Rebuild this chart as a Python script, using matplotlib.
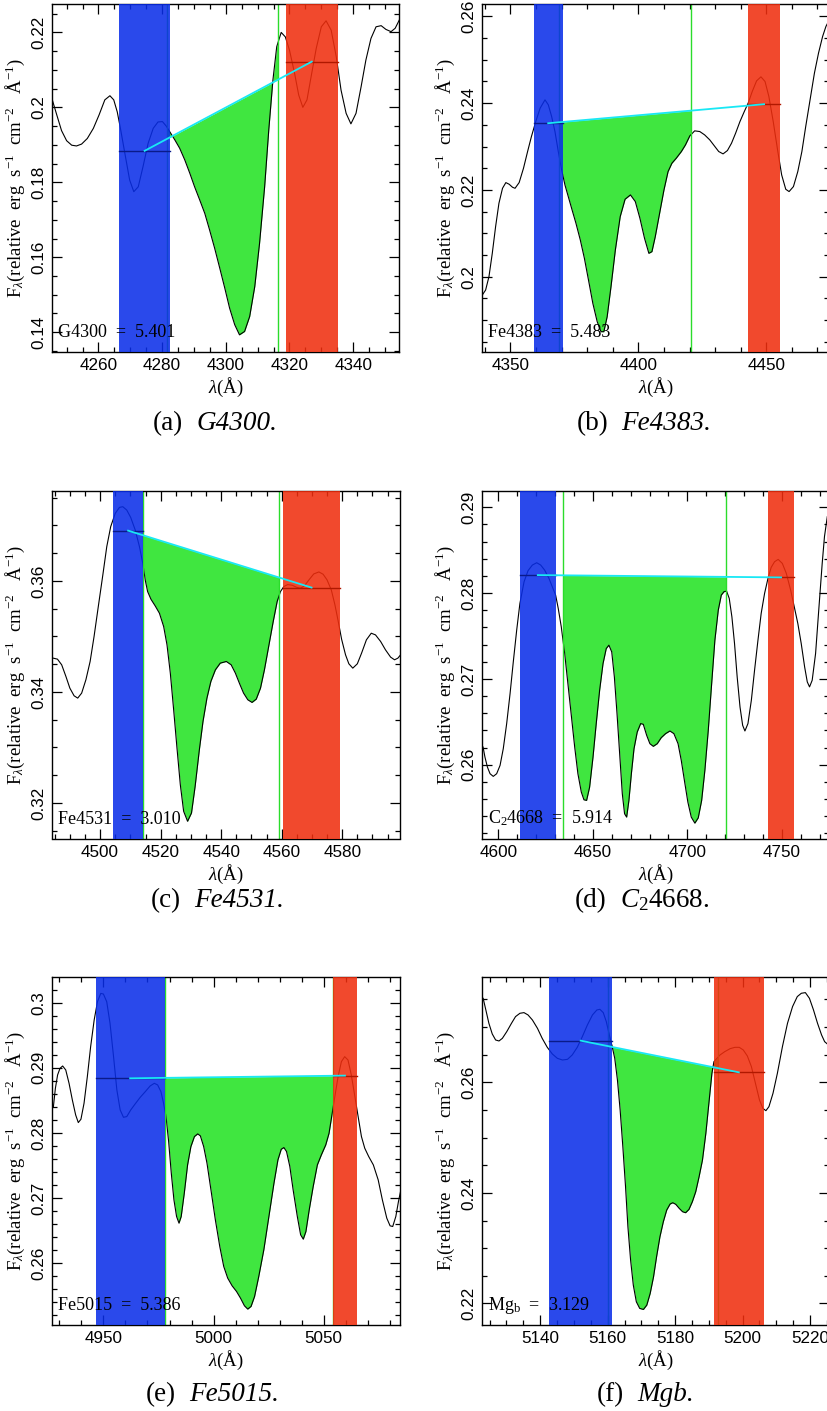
import numpy as np
import matplotlib
matplotlib.use('Agg')
import matplotlib.pyplot as plt
from matplotlib.patches import Rectangle
from matplotlib.ticker import MultipleLocator, FuncFormatter

plt.rcParams['font.family'] = ['Liberation Sans', 'DejaVu Sans']
plt.rcParams['mathtext.fontset'] = 'custom'
plt.rcParams['mathtext.rm'] = 'Liberation Serif'
plt.rcParams['mathtext.it'] = 'Liberation Serif:italic'
plt.rcParams['mathtext.bf'] = 'Liberation Serif:bold'

# ---- spectra ----
wl_a = [4245.5, 4246.9, 4248.4, 4250.0, 4251.6, 4253.1, 4254.7, 4256.5, 4258.4, 4260.2,
        4262.0, 4263.6, 4264.8, 4265.9, 4266.9, 4268.3, 4269.8, 4271.1, 4272.5, 4274.0,
        4275.6, 4277.2, 4278.7, 4280.1, 4281.3, 4282.4, 4284.0, 4285.5, 4287.1, 4288.7,
        4290.2, 4291.8, 4293.4, 4294.9, 4296.5, 4298.1, 4299.7, 4301.2, 4302.8, 4304.3,
        4305.9, 4307.5, 4309.1, 4310.6, 4312.2, 4313.5, 4314.8, 4316.0, 4317.4, 4318.7,
        4320.0, 4321.6, 4322.9, 4324.2, 4325.5, 4326.8, 4328.4, 4330.0, 4331.5, 4333.1,
        4334.7, 4336.2, 4337.8, 4339.3, 4340.9, 4342.5, 4344.0, 4345.6, 4347.2, 4348.8,
        4350.3, 4351.9, 4353.2, 4354.5]
flux_a = [0.2020, 0.1980, 0.1938, 0.1911, 0.1899, 0.1897, 0.1902, 0.1917, 0.1944, 0.1980,
          0.2020, 0.2031, 0.2020, 0.1988, 0.1944, 0.1877, 0.1806, 0.1775, 0.1788, 0.1842,
          0.1904, 0.1944, 0.1961, 0.1962, 0.1950, 0.1935, 0.1913, 0.1891, 0.1860, 0.1824,
          0.1788, 0.1753, 0.1717, 0.1673, 0.1624, 0.1571, 0.1517, 0.1464, 0.1420, 0.1393,
          0.1402, 0.1442, 0.1522, 0.1637, 0.1788, 0.1940, 0.2073, 0.2162, 0.2200, 0.2188,
          0.2153, 0.2091, 0.2033, 0.2000, 0.2020, 0.2082, 0.2157, 0.2215, 0.2231, 0.2206,
          0.2135, 0.2046, 0.1984, 0.1956, 0.1984, 0.2055, 0.2126, 0.2184, 0.2215, 0.2218,
          0.2208, 0.2202, 0.2211, 0.2233]

wl_b = [4339.0, 4340.3, 4341.6, 4342.9, 4344.2, 4345.5, 4346.9, 4348.2, 4349.5, 4350.8,
        4351.8, 4353.4, 4355.1, 4356.7, 4358.2, 4359.9, 4361.6, 4363.5, 4364.8, 4366.1,
        4367.4, 4368.7, 4370.0, 4371.3, 4372.6, 4373.9, 4375.6, 4377.3, 4378.9, 4380.5,
        4382.2, 4383.9, 4385.4, 4386.5, 4387.8, 4389.3, 4391.0, 4392.9, 4394.8, 4396.9,
        4398.8, 4400.6, 4402.4, 4404.1, 4405.3, 4406.6, 4408.3, 4410.0, 4411.6, 4413.1,
        4414.8, 4416.8, 4418.4, 4420.1, 4422.0, 4424.0, 4425.9, 4427.9, 4429.9, 4431.4,
        4433.1, 4434.8, 4436.4, 4438.0, 4439.7, 4441.4, 4442.9, 4444.5, 4446.2, 4447.9,
        4449.5, 4451.0, 4452.7, 4454.4, 4456.0, 4457.6, 4458.9, 4460.6, 4462.3, 4463.9,
        4465.4, 4467.1, 4468.8, 4470.4, 4472.0, 4473.3, 4474.3]
flux_b = [0.19577, 0.19692, 0.2000, 0.20538, 0.21154, 0.21692, 0.22038, 0.22169, 0.22131, 0.22062,
          0.22038, 0.22169, 0.22500, 0.22885, 0.23231, 0.23577, 0.23885, 0.24077, 0.23962, 0.23692,
          0.23346, 0.22885, 0.22462, 0.22115, 0.21846, 0.21577, 0.21231, 0.20846, 0.20423, 0.19923,
          0.19385, 0.18962, 0.18731, 0.18731, 0.19077, 0.19769, 0.20615, 0.21385, 0.21785, 0.21885,
          0.21731, 0.21346, 0.20885, 0.20538, 0.20577, 0.20923, 0.21462, 0.22000, 0.22423, 0.22615,
          0.22731, 0.22885, 0.23038, 0.23246, 0.23362, 0.23346, 0.23269, 0.23154, 0.23000, 0.22885,
          0.22831, 0.22908, 0.23077, 0.23308, 0.23577, 0.23808, 0.24000, 0.24269, 0.24515, 0.24608,
          0.24500, 0.24154, 0.23577, 0.22923, 0.22346, 0.22015, 0.21962, 0.22077, 0.22423, 0.22885,
          0.23462, 0.24077, 0.24692, 0.25154, 0.25538, 0.25769, 0.25885]

wl_c = [4484.5, 4485.9, 4487.3, 4488.7, 4490.0, 4491.4, 4492.6, 4493.9, 4495.3, 4496.7,
        4498.0, 4499.4, 4500.9, 4502.2, 4503.5, 4505.0, 4506.4, 4507.5, 4508.8, 4510.1,
        4511.6, 4513.0, 4514.1, 4514.9, 4515.7, 4516.8, 4518.2, 4519.6, 4521.0, 4522.1,
        4523.2, 4524.3, 4525.4, 4526.5, 4527.6, 4528.9, 4530.2, 4531.4, 4532.8, 4534.0,
        4535.3, 4536.6, 4538.1, 4539.7, 4541.7, 4543.3, 4544.7, 4546.1, 4547.4, 4548.8,
        4550.2, 4551.6, 4553.0, 4554.3, 4555.7, 4557.2, 4558.5, 4559.6, 4560.7, 4562.0,
        4563.5, 4564.9, 4566.2, 4567.5, 4569.0, 4570.6, 4572.3, 4573.7, 4575.0, 4576.4,
        4577.6, 4578.7, 4579.8, 4581.1, 4582.2, 4583.5, 4585.0, 4586.4, 4588.0, 4589.6,
        4591.0, 4592.7, 4594.3, 4596.0, 4597.3, 4598.4, 4599.3]
flux_c = [0.34609, 0.34591, 0.34489, 0.34279, 0.34069, 0.33931, 0.33889, 0.33979, 0.34219, 0.34549,
          0.34999, 0.35538, 0.36108, 0.36618, 0.36978, 0.37217, 0.37325, 0.37337, 0.37277, 0.37145,
          0.36918, 0.36618, 0.36318, 0.36018, 0.35808, 0.35670, 0.35550, 0.35418, 0.35178, 0.34849,
          0.34339, 0.33679, 0.32990, 0.32330, 0.31850, 0.31670, 0.31820, 0.32300, 0.32960, 0.33469,
          0.33889, 0.34189, 0.34399, 0.34519, 0.34549, 0.34489, 0.34339, 0.34147, 0.33979, 0.33859,
          0.33811, 0.33871, 0.34069, 0.34399, 0.34819, 0.35268, 0.35628, 0.35808, 0.35898, 0.35934,
          0.35922, 0.35886, 0.35868, 0.35910, 0.36018, 0.36126, 0.36162, 0.36120, 0.36018, 0.35838,
          0.35568, 0.35268, 0.34950, 0.34669, 0.34507, 0.34429, 0.34507, 0.34699, 0.34939, 0.35058,
          0.35028, 0.34909, 0.34759, 0.34627, 0.34579, 0.34609, 0.34669]

wl_d = [4591.9, 4592.9, 4594.2, 4595.6, 4597.3, 4599.1, 4600.9, 4602.6, 4604.4, 4606.2,
        4607.9, 4609.7, 4611.4, 4613.6, 4615.7, 4618.0, 4620.3, 4622.4, 4624.5, 4626.8,
        4628.9, 4630.3, 4631.7, 4633.3, 4635.1, 4636.8, 4638.6, 4640.4, 4642.1, 4643.9,
        4645.3, 4646.7, 4648.3, 4650.1, 4651.8, 4653.6, 4655.4, 4657.1, 4658.5, 4660.0,
        4661.4, 4662.8, 4664.2, 4665.6, 4666.8, 4667.9, 4669.1, 4670.4, 4671.8, 4673.5,
        4675.3, 4676.7, 4678.5, 4680.2, 4682.0, 4684.1, 4686.2, 4688.5, 4690.8, 4692.9,
        4695.1, 4696.8, 4698.6, 4700.3, 4702.1, 4704.0, 4705.8, 4707.6, 4709.3, 4711.1,
        4712.9, 4714.6, 4716.4, 4718.0, 4719.4, 4720.8, 4722.2, 4723.6, 4725.0, 4726.4,
        4727.9, 4729.3, 4730.5, 4732.1, 4733.9, 4735.6, 4737.4, 4739.1, 4740.9, 4742.7,
        4744.4, 4746.2, 4748.1, 4750.3, 4752.4, 4754.7, 4756.8, 4758.5, 4760.3, 4762.1,
        4763.5, 4764.7, 4766.1, 4767.9, 4769.7, 4771.4, 4772.6, 4774.1]
flux_d = [0.26206, 0.26089, 0.25973, 0.25895, 0.25864, 0.25895, 0.25992, 0.26187, 0.26479, 0.26829,
          0.27198, 0.27568, 0.27879, 0.28132, 0.28261, 0.28327, 0.28354, 0.28327, 0.28268, 0.28171,
          0.28054, 0.27977, 0.27821, 0.27607, 0.27296, 0.26946, 0.26576, 0.26206, 0.25895, 0.25681,
          0.25591, 0.25584, 0.25739, 0.26089, 0.26479, 0.26868, 0.27179, 0.27354, 0.27393, 0.27315,
          0.27023, 0.26595, 0.26128, 0.25661, 0.25428, 0.25389, 0.25584, 0.25895, 0.26187, 0.26381,
          0.26479, 0.26471, 0.26342, 0.26245, 0.26214, 0.26245, 0.26315, 0.26362, 0.26393, 0.26362,
          0.26245, 0.26051, 0.25798, 0.25564, 0.25389, 0.25319, 0.25381, 0.25584, 0.25934, 0.26401,
          0.26946, 0.27451, 0.27802, 0.27977, 0.28016, 0.28023, 0.27938, 0.27724, 0.27412, 0.27023,
          0.26673, 0.26459, 0.26393, 0.26479, 0.26751, 0.27101, 0.27451, 0.27763, 0.27996, 0.28171,
          0.28300, 0.28366, 0.28393, 0.28346, 0.28230, 0.28035, 0.27821, 0.27646, 0.27412, 0.27140,
          0.26965, 0.26907, 0.26984, 0.27296, 0.27840, 0.28346, 0.28658, 0.28891]

wl_e = [4927.3, 4928.2, 4929.2, 4930.3, 4931.5, 4932.9, 4934.4, 4935.9, 4937.4, 4938.6,
        4939.8, 4941.2, 4942.7, 4944.2, 4945.8, 4947.3, 4948.8, 4950.0, 4951.5, 4953.0,
        4954.6, 4956.1, 4957.6, 4959.1, 4960.6, 4962.4, 4964.4, 4966.7, 4969.0, 4971.2,
        4973.1, 4974.6, 4976.1, 4977.3, 4978.4, 4979.6, 4980.8, 4982.0, 4983.2, 4984.3,
        4985.3, 4986.7, 4988.2, 4989.7, 4991.3, 4992.8, 4994.0, 4995.5, 4997.0, 4998.8,
        5000.8, 5002.8, 5004.6, 5006.4, 5008.4, 5010.4, 5012.2, 5014.0, 5015.5, 5017.0,
        5018.6, 5020.5, 5022.8, 5025.1, 5027.4, 5029.2, 5030.7, 5031.9, 5033.1, 5034.6,
        5036.1, 5038.0, 5039.5, 5040.7, 5041.9, 5043.4, 5045.2, 5047.1, 5048.9, 5050.9,
        5052.4, 5053.6, 5054.9, 5056.5, 5058.0, 5059.5, 5061.0, 5062.5, 5064.0, 5065.6,
        5067.1, 5068.6, 5070.4, 5072.5, 5074.7, 5076.6, 5078.6, 5080.1, 5081.3, 5082.7,
        5083.9, 5085.0]
flux_e = [0.28404, 0.28685, 0.28890, 0.28992, 0.29028, 0.28967, 0.28762, 0.28506, 0.28276, 0.28159,
          0.28210, 0.28455, 0.28864, 0.29325, 0.29734, 0.30015, 0.30143, 0.30133, 0.30015, 0.29683,
          0.29171, 0.28660, 0.28353, 0.28240, 0.28251, 0.28353, 0.28445, 0.28547, 0.28634, 0.28721,
          0.28762, 0.28737, 0.28634, 0.28455, 0.28251, 0.27867, 0.27381, 0.26972, 0.26716, 0.26614,
          0.26716, 0.27074, 0.27509, 0.27790, 0.27944, 0.27985, 0.27954, 0.27790, 0.27535, 0.27125,
          0.26665, 0.26256, 0.25949, 0.25770, 0.25652, 0.25565, 0.25463, 0.25345, 0.25294, 0.25335,
          0.25488, 0.25795, 0.26205, 0.26716, 0.27228, 0.27586, 0.27749, 0.27775, 0.27714, 0.27483,
          0.27125, 0.26716, 0.26435, 0.26368, 0.26486, 0.26818, 0.27176, 0.27509, 0.27662, 0.27816,
          0.27995, 0.28251, 0.28532, 0.28864, 0.29095, 0.29171, 0.29120, 0.28890, 0.28583, 0.28251,
          0.27944, 0.27765, 0.27637, 0.27509, 0.27279, 0.26972, 0.26691, 0.26573, 0.26563, 0.26716,
          0.26946, 0.27125]

wl_f = [5123.1, 5123.9, 5124.8, 5125.8, 5126.8, 5127.8, 5128.8, 5130.1, 5131.5, 5132.7,
        5134.0, 5135.2, 5136.4, 5137.7, 5139.2, 5140.6, 5142.1, 5143.6, 5145.1, 5146.6,
        5148.1, 5149.5, 5151.0, 5152.5, 5154.0, 5155.5, 5156.8, 5157.7, 5158.7, 5159.6,
        5160.5, 5161.3, 5162.1, 5162.9, 5163.7, 5164.5, 5165.3, 5166.0, 5166.8, 5167.6,
        5168.5, 5169.5, 5170.6, 5171.6, 5172.6, 5173.6, 5174.5, 5175.5, 5176.5, 5177.5,
        5178.5, 5179.3, 5180.2, 5181.2, 5182.2, 5183.1, 5184.1, 5185.1, 5186.1, 5187.1,
        5188.1, 5189.1, 5190.1, 5190.9, 5191.5, 5193.3, 5194.7, 5196.3, 5197.7, 5199.0,
        5200.2, 5201.4, 5202.6, 5203.8, 5205.0, 5206.0, 5206.9, 5207.8, 5209.0, 5210.3,
        5211.8, 5213.3, 5214.8, 5216.2, 5217.4, 5218.6, 5219.8, 5221.0, 5222.2, 5223.4,
        5224.3, 5225.1]
flux_f = [0.27520, 0.27310, 0.27068, 0.26875, 0.26766, 0.26748, 0.26796, 0.26917, 0.27068, 0.27189,
          0.27249, 0.27261, 0.27219, 0.27128, 0.26977, 0.26796, 0.26634, 0.26513, 0.26434, 0.26404,
          0.26416, 0.26495, 0.26634, 0.26827, 0.27038, 0.27219, 0.27309, 0.27321, 0.27261, 0.27098,
          0.26857, 0.26658, 0.26434, 0.26042, 0.25499, 0.24836, 0.24112, 0.23388, 0.22784, 0.22332,
          0.22030, 0.21910, 0.21891, 0.21970, 0.22181, 0.22483, 0.22845, 0.23207, 0.23478, 0.23689,
          0.23798, 0.23822, 0.23792, 0.23720, 0.23659, 0.23641, 0.23701, 0.23840, 0.24021, 0.24293,
          0.24594, 0.25077, 0.25680, 0.26163, 0.26374, 0.26495, 0.26555, 0.26609, 0.26633, 0.26633,
          0.26585, 0.26477, 0.26284, 0.25982, 0.25680, 0.25529, 0.25487, 0.25560, 0.25801, 0.26163,
          0.26646, 0.27068, 0.27370, 0.27551, 0.27611, 0.27623, 0.27520, 0.27310, 0.27068, 0.26857,
          0.26736, 0.26694]

wavelengths = [wl_a, wl_b, wl_c, wl_d, wl_e, wl_f]
fluxes = [flux_a, flux_b, flux_c, flux_d, flux_e, flux_f]

# Lick band definitions (blue pseudo-continuum, index, red pseudo-continuum)
blue_bands = [(4266.375, 4282.625), (4359.125, 4370.375), (4504.250, 4514.250),
              (4611.500, 4630.250), (4946.500, 4977.750), (5142.625, 5161.375)]
index_bands = [(4281.375, 4316.375), (4369.125, 4420.375), (4514.250, 4559.250),
               (4634.000, 4720.250), (4977.750, 5054.000), (5160.125, 5192.625)]
red_bands = [(4318.875, 4335.125), (4442.875, 4455.375), (4560.500, 4579.250),
             (4742.750, 4756.500), (5054.000, 5065.250), (5191.375, 5206.375)]
# mean continuum levels in each side band
blue_levels = [0.1884, 0.23538, 0.36906, 0.28210, 0.28839, 0.26754]
red_levels = [0.2122, 0.23977, 0.35880, 0.28183, 0.28880, 0.26181]

index_names = ['G4300', 'Fe4383', 'Fe4531', r'C$_2$4668', 'Fe5015', r'Mg$_\mathregular{b}$']
index_values = [5.401, 5.483, 3.010, 5.914, 5.386, 3.129]
panel_tags = ['(a)', '(b)', '(c)', '(d)', '(e)', '(f)']
caption_names = ['G4300.', 'Fe4383.', 'Fe4531.', r'$C_2$4668.', 'Fe5015.', 'Mgb.']
caption_italic = [True, True, True, False, True, True]

xlims = [(4245.5, 4354.5), (4339.0, 4474.5), (4484.2, 4599.1),
         (4591.5, 4775.0), (4926.8, 5084.6), (5122.85, 5225.6)]
ylims = [(0.1348, 0.2275), (0.1827, 0.2628), (0.3136, 0.3762),
         (0.2514, 0.2919), (0.2505, 0.3039), (0.2161, 0.2790)]
x_major = [20, 50, 20, 50, 50, 20]
x_minor = [5, 10, 5, 10, 10, 5]
y_major = [0.02, 0.02, 0.02, 0.01, 0.01, 0.02]
y_minor = [0.005, 0.005, 0.005, 0.002, 0.002, 0.005]

# ---- layout (pixels) ----
W, H = 827, 1411
boxes = [(52.3, 4.3, 399.3, 351.7), (482.3, 4.3, 829.0, 351.7),
         (52.3, 491.0, 400.0, 838.5), (482.3, 491.0, 829.0, 838.5),
         (52.3, 977.3, 400.0, 1325.0), (482.3, 977.3, 829.0, 1325.0)]
caption_y = [430, 430, 907, 907, 1401, 1401]
tag_right = [183, 608, 181, 607, 176, 624]

BLUE = '#0a2ee8'
RED = '#f02e0e'
GREEN = '#40e640'
GREEN_LINE = '#2bdc2b'
CYAN = '#19e8f5'

fig = plt.figure(figsize=(W / 100, H / 100), dpi=100)


def draw_panel(ax, i):
    wl = np.array(wavelengths[i])
    flux = np.array(fluxes[i])
    blue, idx, red = blue_bands[i], index_bands[i], red_bands[i]
    bl, rl = blue_levels[i], red_levels[i]
    bmid = 0.5 * (blue[0] + blue[1])
    rmid = 0.5 * (red[0] + red[1])
    cont = bl + (rl - bl) * (wl - bmid) / (rmid - bmid)
    y0, y1 = ylims[i]

    fill = ax.fill_between(wl, flux, cont, color=GREEN, lw=0, zorder=1)
    fill.set_clip_path(Rectangle((idx[0], y0), idx[1] - idx[0], y1 - y0,
                                 transform=ax.transData))
    ax.plot(wl, flux, color='k', lw=0.8, zorder=2)
    for x in idx:
        ax.axvline(x, color=GREEN_LINE, lw=1.0, zorder=2)
    ax.axvspan(blue[0], blue[1], color=BLUE, alpha=0.87, lw=0, zorder=3)
    ax.axvspan(red[0], red[1], color=RED, alpha=0.87, lw=0, zorder=3)
    ax.plot(blue, [bl, bl], color='#0a1a8a', lw=1.0, zorder=4)
    ax.plot(red, [rl, rl], color='#b01800', lw=1.0, zorder=4)
    ax.plot([bmid, rmid], [bl, rl], color=CYAN, lw=1.3, zorder=5)

    ax.text(0.017, 0.043, index_names[i] + '  =  %.3f' % index_values[i],
            transform=ax.transAxes, family='Liberation Serif', fontsize=13,
            ha='left', va='baseline', zorder=6)

    ax.set_xlim(xlims[i])
    ax.set_ylim(ylims[i])
    ax.xaxis.set_major_locator(MultipleLocator(x_major[i]))
    ax.xaxis.set_minor_locator(MultipleLocator(x_minor[i]))
    ax.yaxis.set_major_locator(MultipleLocator(y_major[i]))
    ax.yaxis.set_minor_locator(MultipleLocator(y_minor[i]))
    ax.yaxis.set_major_formatter(FuncFormatter(lambda v, p: '%g' % round(v, 4)))
    ax.tick_params(which='both', direction='in', top=True, right=True,
                   width=0.9, labelsize=12.3)
    ax.tick_params(which='major', length=7)
    ax.tick_params(which='minor', length=3.5)
    ax.tick_params(axis='x', pad=4.5)
    ax.tick_params(axis='y', pad=4.5, labelrotation=90)
    for lab in ax.get_yticklabels():
        lab.set_verticalalignment('center')
    for sp in ax.spines.values():
        sp.set_linewidth(1.0)

    ax.set_xlabel(r'$\lambda$(Å)', family='Liberation Serif', fontsize=13.5, labelpad=2)
    ax.set_ylabel(r'F$_\lambda$(relative  erg  s$^{-1}$  cm$^{-2}$   Å$^{-1}$)',
                  family='Liberation Serif', fontsize=13.5, labelpad=3)


for i, (l, t, r, b) in enumerate(boxes):
    ax = fig.add_axes([l / W, 1 - b / H, (r - l) / W, (b - t) / H])
    draw_panel(ax, i)
    yc = 1 - caption_y[i] / H
    fig.text(tag_right[i] / W, yc, panel_tags[i], family='Liberation Serif',
             fontsize=19.5, ha='right', va='baseline')
    fig.text((tag_right[i] + 13) / W, yc, caption_names[i], family='Liberation Serif',
             fontsize=19.5, ha='left', va='baseline',
             style='italic' if caption_italic[i] else 'normal')

fig.savefig('out.png', dpi=100)
